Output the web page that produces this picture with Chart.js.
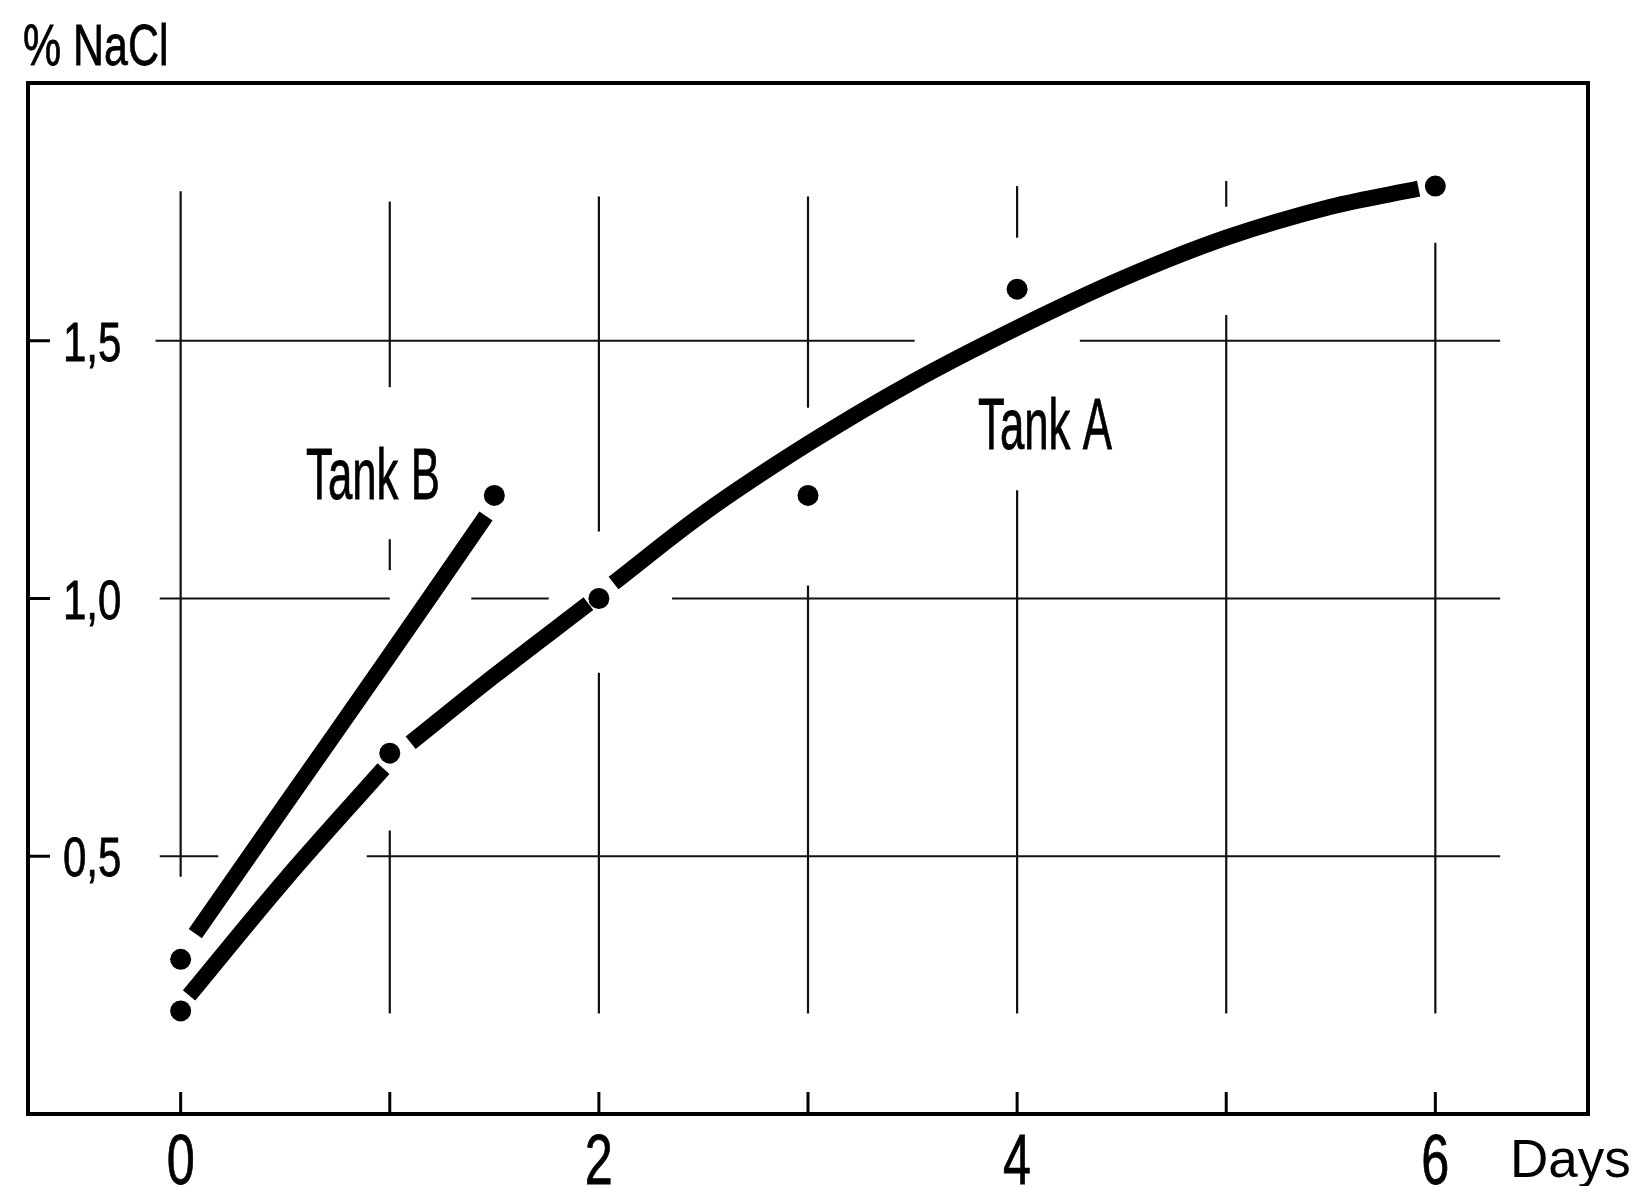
<!DOCTYPE html>
<html lang="en">
<head>
<meta charset="UTF-8">
<title>% NaCl - Tank A / Tank B</title>
<script src="https://cdn.jsdelivr.net/npm/chart.js"></script>
<style>
  html, body { margin: 0; padding: 0; background: #fff; }
  #wrap { width: 1636px; height: 1186px; position: relative; }
</style>
</head>
<body>
<div id="wrap"><canvas id="nacl-chart"></canvas></div>
<script>
// measured points (days, % NaCl)
const tankADays = [0, 1, 2, 3, 4, 6];
const tankAValues = [0.20, 0.70, 1.00, 1.20, 1.60, 1.80];
const tankBDays = [0, 1.5];
const tankBValues = [0.30, 1.20];

// hand drawn fit curves (null = break in the stroke)
const tankAFitDays = [0.04, 0.5, 0.97, 1.0, 1.1, 1.5, 1.95, 2.0, 2.07, 2.5, 3, 3.5, 4, 4.5, 5, 5.5, 5.92];
const tankAFitValues = [0.23, 0.455, 0.67, null, 0.72, 0.85, 0.99, null, 1.03, 1.165, 1.30, 1.42, 1.525, 1.62, 1.70, 1.76, 1.795];
const tankBFitDays = [0.07, 0.5, 1.0, 1.46];
const tankBFitValues = [0.35, 0.60, 0.89, 1.16];

// axes
const xTickDays = [0, 1, 2, 3, 4, 5, 6];
const xLabelDays = [0, 2, 4, 6];
const yTickValues = [0.5, 1.0, 1.5];
const yTickLabels = ['0,5', '1,0', '1,5'];

// grid in the original is broken up around labels and curves
const hGridRuns = [
  { y: 1.5, runs: [[-0.12, 3.51], [4.30, 6.31]] },
  { y: 1.0, runs: [[-0.10, 1.0], [1.39, 1.76], [2.35, 6.31]] },
  { y: 0.5, runs: [[-0.10, 0.18], [0.89, 6.31]] }
];
const vGridRuns = [
  { x: 0, runs: [[0.46, 1.79]] },
  { x: 1, runs: [[1.41, 1.77], [1.055, 1.115], [0.195, 0.55]] },
  { x: 2, runs: [[1.13, 1.78], [0.195, 0.856]] },
  { x: 3, runs: [[1.37, 1.78], [0.195, 1.025]] },
  { x: 4, runs: [[1.70, 1.80], [0.195, 1.21]] },
  { x: 5, runs: [[1.76, 1.81], [0.195, 1.55]] },
  { x: 6, runs: [[0.195, 1.69]] }
];

const toXY = (xs, ys) => xs.map((x, i) => ({ x: x, y: ys[i] }));

// narrow type like the original print
function narrowText(ctx, str, x, y, size, squeeze, align) {
  ctx.save();
  ctx.font = size + 'px "Liberation Sans", Arial, sans-serif';
  ctx.textBaseline = 'alphabetic';
  ctx.textAlign = 'left';
  const w = ctx.measureText(str).width * squeeze;
  const left = align === 'center' ? x - w / 2 : x;
  ctx.translate(left, y);
  ctx.scale(squeeze, 1);
  ctx.fillStyle = '#000';
  ctx.strokeStyle = '#000';
  ctx.lineWidth = 0.8;
  ctx.fillText(str, 0, 0);
  ctx.strokeText(str, 0, 0);
  ctx.restore();
}

const paperFigure = {
  id: 'paperFigure',
  beforeDatasetsDraw(chart) {
    const ctx = chart.ctx;
    const xs = chart.scales.x, ys = chart.scales.y;
    const area = chart.chartArea;
    ctx.save();
    ctx.strokeStyle = '#111';
    ctx.lineCap = 'butt';

    // grid pieces
    ctx.lineWidth = 2.2;
    hGridRuns.forEach(g => {
      const py = ys.getPixelForValue(g.y);
      g.runs.forEach(r => {
        ctx.beginPath();
        ctx.moveTo(xs.getPixelForValue(r[0]), py);
        ctx.lineTo(xs.getPixelForValue(r[1]), py);
        ctx.stroke();
      });
    });
    vGridRuns.forEach(g => {
      const px = xs.getPixelForValue(g.x);
      g.runs.forEach(r => {
        ctx.beginPath();
        ctx.moveTo(px, ys.getPixelForValue(r[0]));
        ctx.lineTo(px, ys.getPixelForValue(r[1]));
        ctx.stroke();
      });
    });

    // frame
    ctx.strokeStyle = '#000';
    ctx.lineWidth = 4;
    ctx.strokeRect(area.left, area.top, area.right - area.left, area.bottom - area.top);

    // inside ticks
    ctx.lineWidth = 3;
    xTickDays.forEach(d => {
      const px = xs.getPixelForValue(d);
      ctx.beginPath();
      ctx.moveTo(px, area.bottom);
      ctx.lineTo(px, area.bottom - 22);
      ctx.stroke();
    });
    yTickValues.forEach(v => {
      const py = ys.getPixelForValue(v);
      ctx.beginPath();
      ctx.moveTo(area.left, py);
      ctx.lineTo(area.left + 22, py);
      ctx.stroke();
    });
    ctx.restore();

    // labels
    yTickValues.forEach((v, i) => {
      narrowText(ctx, yTickLabels[i], area.left + 35, ys.getPixelForValue(v) + 20, 56, 0.75, 'left');
    });
    xLabelDays.forEach(d => {
      narrowText(ctx, String(d), xs.getPixelForValue(d), 1184, 70, 0.72, 'center');
    });
    narrowText(ctx, '% NaCl', 23, 65, 58, 0.74, 'left');
    narrowText(ctx, 'Tank B', 306, 499, 73, 0.6, 'left');
    narrowText(ctx, 'Tank A', 978, 449, 73, 0.6, 'left');

    ctx.save();
    ctx.font = '53px "Liberation Sans", Arial, sans-serif';
    ctx.fillStyle = '#000';
    ctx.textBaseline = 'alphabetic';
    ctx.fillText('Days', 1510, 1177);
    ctx.restore();
  }
};

const curveStyle = {
  borderColor: '#000',
  borderWidth: 16,
  borderCapStyle: 'butt',
  pointRadius: 0,
  tension: 0.35,
  spanGaps: false,
  fill: false,
  order: 1
};
const dotStyle = {
  showLine: false,
  pointRadius: 10.5,
  pointHoverRadius: 10.5,
  pointBackgroundColor: '#000',
  pointBorderWidth: 0,
  order: 0
};

new Chart(document.getElementById('nacl-chart'), {
  type: 'line',
  data: {
    datasets: [
      Object.assign({ label: 'Tank A', data: toXY(tankADays, tankAValues) }, dotStyle),
      Object.assign({ label: 'Tank B', data: toXY(tankBDays, tankBValues) }, dotStyle),
      Object.assign({ label: 'Tank A fit', data: toXY(tankAFitDays, tankAFitValues) }, curveStyle),
      Object.assign({ label: 'Tank B fit', data: toXY(tankBFitDays, tankBFitValues) }, curveStyle)
    ]
  },
  options: {
    responsive: true,
    maintainAspectRatio: false,
    animation: false,
    layout: { padding: { left: 28, right: 48, top: 83, bottom: 72 } },
    plugins: { legend: { display: false }, tooltip: { enabled: false } },
    scales: {
      x: { type: 'linear', min: -0.73, max: 6.73, display: false },
      y: { type: 'linear', min: 0, max: 2.0, display: false }
    }
  },
  plugins: [paperFigure]
});
</script>
</body>
</html>
